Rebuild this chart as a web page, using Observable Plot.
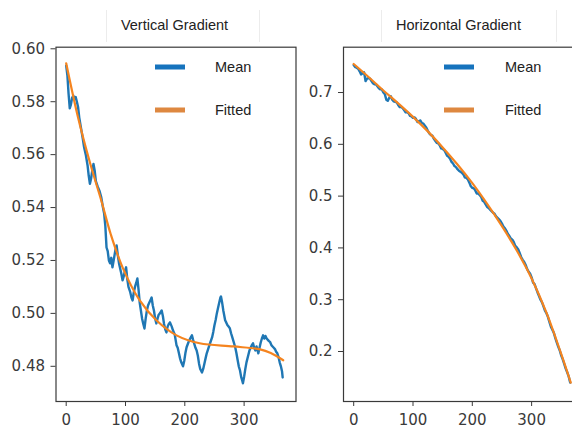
<!DOCTYPE html>
<html>
<head>
<meta charset="utf-8">
<script src="https://cdn.jsdelivr.net/npm/d3@7"></script>
<script src="https://cdn.jsdelivr.net/npm/@observablehq/plot@0.6"></script>
<style>
  html, body { margin: 0; padding: 0; background: #fff; }
  #wrap { position: relative; width: 572px; height: 428px; overflow: hidden; background: #fff; }
  .panel { position: absolute; top: 0; }
  .title { position: absolute; font-family: "Liberation Sans", Arial, sans-serif; font-size: 14.5px; color: #222; white-space: nowrap; transform: translate(-50%, -50%); }
  .tbox { position: absolute; top: 10px; height: 32px; border-left: 1px solid #ececec; border-right: 1px solid #ececec; }
  .sw { position: absolute; width: 30px; height: 5px; transform: translateY(-50%); }
  .lt { position: absolute; font-family: "Liberation Sans", Arial, sans-serif; font-size: 14.5px; color: #222; transform: translateY(-50%); white-space: nowrap; }
</style>
</head>
<body>
<div id="wrap"></div>
<script>
// ---------- data ----------
const xTicks = [0, 100, 200, 300];
const leftYTicks = [0.48, 0.50, 0.52, 0.54, 0.56, 0.58, 0.60];
const rightYTicks = [0.2, 0.3, 0.4, 0.5, 0.6, 0.7];
const titles = ["Vertical Gradient", "Horizontal Gradient"];
const seriesNames = ["Mean", "Fitted"];

const leftT = [0,2,4,6,8,10,12,14,16,18,20,22,25,28,30,33,36,38,40,42,44,46,48,50,53,56,59,62,64,66,68,70,72,74,76,78,80,83,85,87,89,91,93,95,97,99,101,103,105,108,110,112,114,116,118,120,122,124,126,128,130,132,134,136,138,140,142,144,146,148,150,152,154,156,158,161,163,165,167,169,171,173,175,178,180,183,186,188,190,192,194,197,199,201,203,206,209,212,214,216,218,220,222,224,226,229,231,233,235,237,240,243,246,248,250,252,254,256,258,260,261,263,265,268,270,272,274,276,278,280,282,285,287,289,291,293,295,297,298,300,302,304,307,309,311,313,315,317,319,321,324,326,328,330,332,334,336,338,340,342,344,346,348,350,352,354,356,358,360,362,364,365];
const leftMean = [0.5936,0.5900,0.5830,0.5775,0.5790,0.5815,0.5823,0.5810,0.5818,0.5800,0.5780,0.5740,0.5700,0.5660,0.5630,0.5600,0.5560,0.5520,0.5490,0.5510,0.5540,0.5565,0.5540,0.5500,0.5480,0.5464,0.5440,0.5400,0.5377,0.5330,0.5249,0.5235,0.5200,0.5189,0.5210,0.5174,0.5200,0.5240,0.5257,0.5220,0.5190,0.5170,0.5150,0.5125,0.5140,0.5160,0.5174,0.5130,0.5100,0.5080,0.5060,0.5049,0.5080,0.5100,0.5115,0.5132,0.5090,0.5040,0.5010,0.4980,0.4960,0.4943,0.4980,0.5010,0.5030,0.5040,0.5050,0.5060,0.5030,0.5010,0.4980,0.4962,0.4980,0.4995,0.5000,0.5011,0.4990,0.4960,0.4940,0.4928,0.4950,0.4960,0.4966,0.4950,0.4936,0.4920,0.4880,0.4870,0.4850,0.4830,0.4815,0.4800,0.4820,0.4850,0.4872,0.4890,0.4905,0.4917,0.4900,0.4885,0.4870,0.4860,0.4840,0.4810,0.4790,0.4777,0.4790,0.4810,0.4830,0.4849,0.4870,0.4890,0.4909,0.4930,0.4955,0.4975,0.5000,0.5020,0.5040,0.5060,0.5064,0.5040,0.5010,0.4974,0.4965,0.4955,0.4950,0.4943,0.4925,0.4910,0.4895,0.4872,0.4850,0.4825,0.4800,0.4785,0.4760,0.4745,0.4736,0.4760,0.4790,0.4815,0.4842,0.4860,0.4870,0.4880,0.4887,0.4870,0.4860,0.4875,0.4849,0.4870,0.4890,0.4905,0.4917,0.4905,0.4915,0.4905,0.4900,0.4895,0.4891,0.4880,0.4875,0.4870,0.4865,0.4855,0.4849,0.4835,0.4815,0.4800,0.4780,0.4758];
const leftFitT = [0,20,40,60,75,95,124,152,186,225,282,327,345,366];
const leftFitted = [0.5945,0.5740,0.5570,0.5420,0.5300,0.5174,0.5049,0.4974,0.4917,0.4887,0.4875,0.4864,0.4850,0.4823];

const rightT = [0,2.5,5,7.5,10,12.5,15,17.5,20,22.5,25,27.5,30,32.5,35,37.5,40,42.5,45,47.5,50,52.5,55,57.5,60,62.5,65,67.5,70,72.5,75,77.5,80,82.5,85,87.5,90,92.5,95,97.5,100,102.5,105,107.5,110,112.5,115,117.5,120,122.5,125,127.5,130,132.5,135,137.5,140,142.5,145,147.5,150,152.5,155,157.5,160,162.5,165,167.5,170,172.5,175,177.5,180,182.5,185,187.5,190,192.5,195,197.5,200,202.5,205,207.5,210,212.5,215,217.5,220,222.5,225,227.5,230,232.5,235,237.5,240,242.5,245,247.5,250,252.5,255,257.5,260,262.5,265,267.5,270,272.5,275,277.5,280,282.5,285,287.5,290,292.5,295,297.5,300,302.5,305,307.5,310,312.5,315,317.5,320,322.5,325,327.5,330,332.5,335,337.5,340,342.5,345,347.5,350,352.5,355,357.5,360,362.5,365];
const rightMean = [0.753,0.749,0.748,0.746,0.741,0.735,0.737,0.739,0.722,0.727,0.728,0.727,0.722,0.718,0.716,0.716,0.712,0.708,0.706,0.706,0.700,0.697,0.686,0.684,0.690,0.693,0.686,0.683,0.682,0.681,0.676,0.672,0.672,0.670,0.666,0.662,0.662,0.660,0.655,0.654,0.651,0.652,0.649,0.643,0.645,0.646,0.641,0.640,0.636,0.632,0.626,0.621,0.618,0.617,0.611,0.607,0.603,0.602,0.598,0.592,0.591,0.589,0.584,0.578,0.576,0.572,0.566,0.563,0.558,0.556,0.552,0.549,0.547,0.545,0.542,0.536,0.535,0.532,0.526,0.519,0.516,0.515,0.511,0.505,0.505,0.502,0.498,0.491,0.489,0.484,0.479,0.477,0.474,0.471,0.468,0.466,0.461,0.458,0.455,0.452,0.447,0.441,0.438,0.433,0.427,0.423,0.418,0.416,0.411,0.404,0.401,0.397,0.390,0.382,0.377,0.373,0.367,0.359,0.354,0.350,0.343,0.333,0.330,0.322,0.314,0.307,0.300,0.295,0.287,0.279,0.274,0.267,0.257,0.248,0.242,0.236,0.226,0.217,0.209,0.202,0.192,0.185,0.176,0.167,0.160,0.152,0.140];
const rightFitT = [0,25,50,75,100,125,150,175,200,225,250,275,300,325,350,366];
const rightFitted = [0.755,0.730,0.704,0.679,0.653,0.625,0.594,0.561,0.525,0.485,0.442,0.395,0.341,0.275,0.195,0.140];

// ---------- drawing ----------
const blue = "#1f77b4", orange = "#f5841f", ink = "#3a3a3a";
const toRows = (ts, vs) => ts.map((t, i) => ({t, v: vs[i]}));

function panel({mean, fit, yDomain, yTicks, yFmt, marginLeft}) {
  return Plot.plot({
    width: 300, height: 428,
    marginTop: 46.7, marginBottom: 27, marginLeft, marginRight: 300 - marginLeft - 240,
    style: {fontFamily: "DejaVu Sans", fontSize: "15px", color: ink, background: "transparent"},
    x: {domain: [-17.2, 387.5]},
    y: {domain: yDomain},
    marks: [
      Plot.frame({stroke: ink, strokeWidth: 1.2}),
      Plot.axisX({ticks: xTicks, tickSize: 5, tickPadding: 8, label: null, stroke: ink, tickFormat: d3.format("d")}),
      Plot.axisY({ticks: yTicks, tickSize: 5, tickPadding: 6, label: null, stroke: ink, tickFormat: d3.format(yFmt)}),
      Plot.line(mean, {x: "t", y: "v", stroke: blue, strokeWidth: 2.4}),
      Plot.line(fit, {x: "t", y: "v", stroke: orange, strokeWidth: 2.2, curve: "catmull-rom"})
    ]
  });
}

const wrap = document.getElementById("wrap");
const left = panel({mean: toRows(leftT, leftMean), fit: toRows(leftFitT, leftFitted),
  yDomain: [0.4667, 0.6006], yTicks: leftYTicks, yFmt: ".2f", marginLeft: 55.5});
left.classList.add("panel"); left.style.left = "0px";
wrap.appendChild(left);

const right = panel({mean: toRows(rightT, rightMean), fit: toRows(rightFitT, rightFitted),
  yDomain: [0.1035, 0.7875], yTicks: rightYTicks, yFmt: ".1f", marginLeft: 53});
right.classList.add("panel"); right.style.left = "290px";
wrap.appendChild(right);

function add(cls, css, text) {
  const d = document.createElement("div");
  d.className = cls;
  Object.assign(d.style, css);
  if (text) d.textContent = text;
  wrap.appendChild(d);
}
// title boxes and titles
add("tbox", {left: "106px", width: "152px"});
add("tbox", {left: "381px", width: "174px"});
add("title", {left: "174.5px", top: "25px"}, titles[0]);
add("title", {left: "458.5px", top: "25px"}, titles[1]);
// legends
[[155, 215], [444, 505]].forEach(([sx, tx]) => {
  add("sw", {left: sx + "px", top: "66.5px", background: "#1673bd"}, "");
  add("lt", {left: tx + "px", top: "66.5px"}, seriesNames[0]);
  add("sw", {left: sx + "px", top: "110px", background: "#de8840"}, "");
  add("lt", {left: tx + "px", top: "110px"}, seriesNames[1]);
});
</script>
</body>
</html>
